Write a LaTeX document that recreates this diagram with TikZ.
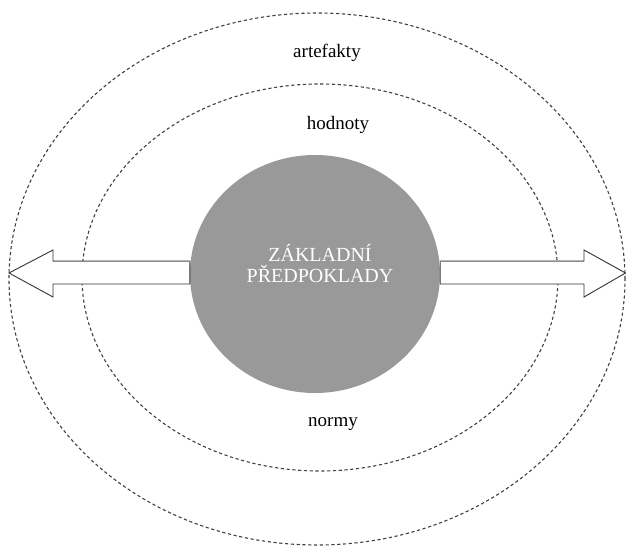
\documentclass[tikz,border=0pt]{standalone}
\usepackage{fontspec}
\setmainfont{Liberation Serif}
\usetikzlibrary{shapes.geometric}
\tikzset{
  ring/.style={draw=black!75, dash pattern=on 3.2pt off 2.6pt, line width=1.1pt},
  blockarrow/.style={fill=white, draw=black!80, line width=0.9pt, line join=miter},
  layerlabel/.style={anchor=base, font=\fontsize{19}{22}\selectfont, text=black, inner sep=0pt},
  corelabel/.style={anchor=base, font=\fontsize{20}{22}\selectfont, text=white, inner sep=0pt}
}
\begin{document}
\begin{tikzpicture}[x=1pt, y=1pt]
  \useasboundingbox (0,0) rectangle (626,546);

  % the two dashed layers
  \draw[ring] (317,267) ellipse [x radius=308, y radius=266];
  \draw[ring] (320,268.5) ellipse [x radius=238, y radius=193.5];

  % core
  \node[ellipse, fill=black!40, draw=none, minimum width=250pt, minimum height=238pt, inner sep=0pt]
    (core) at (315,272) {};

  % block arrows leaving the core
  \coordinate (ltip) at (9,273);
  \coordinate (rtip) at (625.5,273);
  \draw[blockarrow] (core.west |- 0,285) -- (53,285) -- (53,296) -- (ltip) -- (53,249) -- (53,262)
    -- (core.west |- 0,262) -- cycle;
  \draw[blockarrow] (core.east |- 0,285) -- (584,285) -- (584,296) -- (rtip) -- (584,249) -- (584,262)
    -- (core.east |- 0,262) -- cycle;
  \draw[black!45, line width=0.9pt] (53,285) -- (core.west |- 0,285);
  \draw[black!45, line width=0.9pt] (core.east |- 0,285) -- (584,285);

  % texts
  \node[corelabel] (z1) at (320,284) {ZÁKLADNÍ};
  \node[corelabel] (z2) at (320,263) {PŘEDPOKLADY};
  \node[layerlabel] (art) at (327,488) {artefakty};
  \node[layerlabel] (hod) at (338,416) {hodnoty};
  \node[layerlabel] (nor) at (333,119) {normy};
\end{tikzpicture}
\end{document}
